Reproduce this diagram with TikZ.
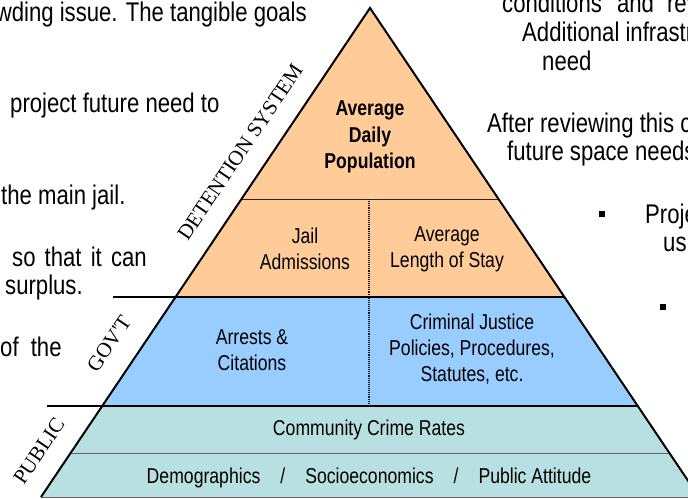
\documentclass[tikz,border=0pt]{standalone}
\usepackage{fontspec}
\usepackage{tikz}

\newfontfamily\narrow[FakeStretch=0.82]{Liberation Sans}
\newfontfamily\serifcaps{Liberation Serif}

\definecolor{peach}{RGB}{255,204,153}
\definecolor{skyblue}{RGB}{153,204,255}
\definecolor{paleteal}{RGB}{184,224,226}

\begin{document}
\begin{tikzpicture}[x=1pt,y=-1pt,
	tier/.style={align=center,inner sep=0pt,font=\narrow\fontsize{21.5}{26}\selectfont},
	page/.style={anchor=base west,inner sep=0pt,font=\narrow\fontsize{27}{29}\selectfont},
	side/.style={rotate=56,inner sep=0pt,font=\serifcaps\fontsize{21}{24}\selectfont},
	bulletbox/.style={fill=black,inner sep=0pt,minimum size=6.5pt}]

	\useasboundingbox (0,0) rectangle (688,498);
	\clip (0,0) rectangle (688,498);

	% corners of the pyramid, one pair per level
	\coordinate (top) at (370,8);
	\coordinate (l1) at (241.5,199);
	\coordinate (r1) at (498.5,199);
	\coordinate (l2) at (175.5,297);
	\coordinate (r2) at (564.5,297);
	\coordinate (l3) at (102,406);
	\coordinate (r3) at (638,406);
	\coordinate (l4) at (70.5,453);
	\coordinate (r4) at (669.5,453);
	\coordinate (bl) at (41,497);
	\coordinate (br) at (699,497);

	\coordinate (d1) at (369,199);
	\coordinate (d2) at (369,406);
	\coordinate (g1) at (113,297);
	\coordinate (g2) at (47,406);

	\fill[peach] (top) -- (l2) -- (r2) -- cycle;
	\fill[skyblue] (l2) -- (l3) -- (r3) -- (r2) -- cycle;
	\fill[paleteal] (l3) -- (bl) -- (br) -- (r3) -- cycle;

	\draw[black!85, line width=0.9pt] (l1) -- (r1);
	\draw[black!60, line width=0.9pt] (l4) -- (r4);
	\draw[black!60, line width=0.9pt] (bl) -- (br);
	\draw[black!90, densely dotted, line width=1.1pt] (d1) -- (d2);

	\draw[line width=2pt] (g1) -- (r2);
	\draw[line width=2pt] (g2) -- (r3);
	\draw[line width=2pt, line join=miter] (bl) -- (top) -- (br);

	\node[tier, font=\narrow\bfseries\fontsize{21.5}{26.5}\selectfont] (adp) at (370,137) {Average\\Daily\\Population};
	\node[tier] (adm) at (305,249) {Jail\\Admissions};
	\node[tier] (los) at (447,249) {Average\\Length of Stay};
	\node[tier] (arr) at (252,350) {Arrests \&\\Citations};
	\node[tier] (cjp) at (472,349) {Criminal Justice\\Policies, Procedures,\\Statutes, etc.};
	\node[tier] (ccr) at (369,430) {Community Crime Rates};
	\node[tier] (dem) at (369,478) {Demographics\hspace{20pt}/\hspace{20pt}Socioeconomics\hspace{20pt}/\hspace{20pt}Public Attitude};

	\node[side] (det) at (240,152) {DETENTION SYSTEM};
	\node[side] (gov) at (109,344) {GOV'T};
	\node[side] (pub) at (39,451) {PUBLIC};

	% running text around the figure
	\node[page, anchor=base east] (p1) at (307,21) {wding issue. The tangible goals};
	\node[page] (p2) at (10,112) {project future need to};
	\node[page] (p3) at (1,204) {the main jail.};
	\node[page] (p4) at (12,266) {so\hspace{3pt} that\hspace{3pt} it\hspace{3pt} can};
	\node[page] (p5) at (5,294) {surplus.};
	\node[page] (p6) at (0,356) {of\hspace{6pt} the};

	\node[page] (q1) at (502,12) {conditions\hspace{9pt} and\hspace{7pt} rev};
	\node[page] (q2) at (522,41) {Additional infrastr};
	\node[page] (q3) at (542,70) {need};
	\node[page] (q4) at (487,132) {After reviewing this c};
	\node[page] (q5) at (507,160) {future space needs};

	\node[bulletbox] (b1) at (602,214) {};
	\node[page] (q6) at (645,223) {Proje};
	\node[page] (q7) at (663,251) {us};
	\node[bulletbox] (b2) at (663,307) {};

\end{tikzpicture}
\end{document}
